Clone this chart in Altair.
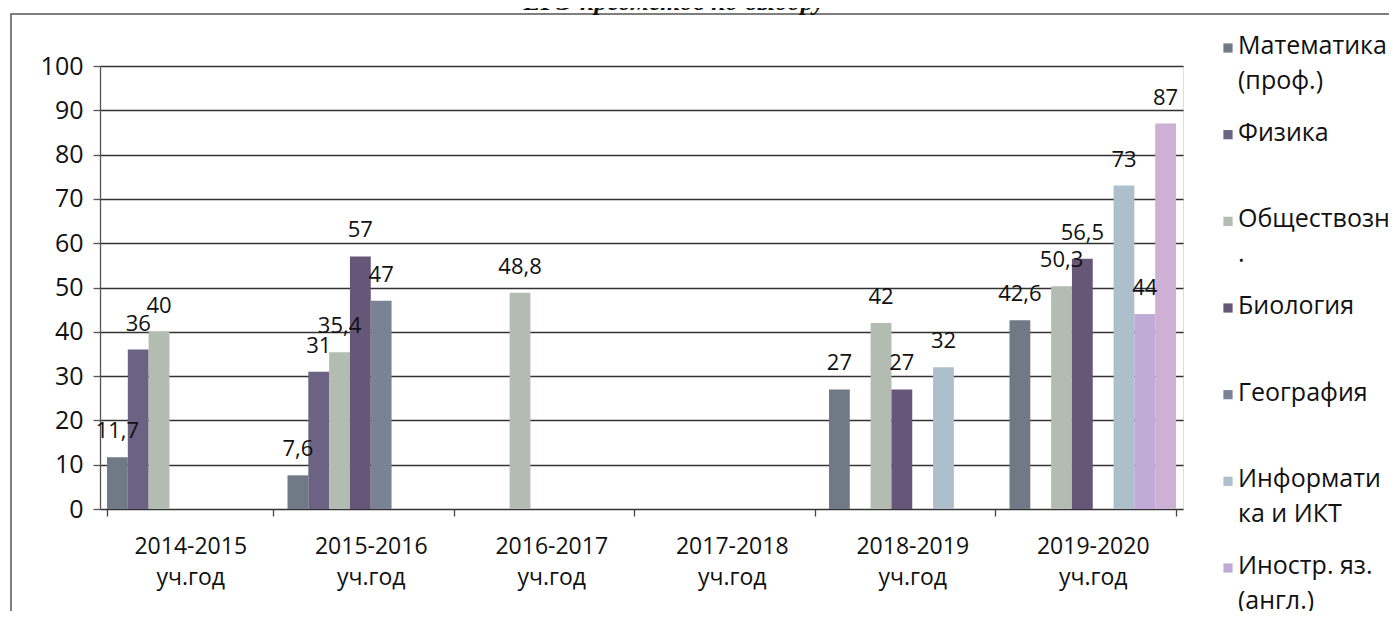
import altair as alt
import pandas as pd

years = ["2014-2015 уч.год", "2015-2016 уч.год", "2016-2017 уч.год",
         "2017-2018 уч.год", "2018-2019 уч.год", "2019-2020 уч.год"]
series = ["Математика (проф.)", "Физика", "Обществозн.", "Биология",
          "География", "Информатика и ИКТ", "Иностр. яз. (англ.)", "История"]
legend_labels = ["Математика\n(проф.)", "Физика", "Обществозн\n.", "Биология",
                 "География", "Информати\nка и ИКТ", "Иностр. яз.\n(англ.)"]
colors = ["#6f7a86", "#6c6283", "#b3bcb0", "#665678",
          "#7a8296", "#aebfcc", "#c0aad6", "#cdb0d4"]

math_vals = [11.7, 7.6, None, None, 27, 42.6]
phys_vals = [36, 31, None, None, None, None]
soc_vals = [40, 35.4, 48.8, None, 42, 50.3]
bio_vals = [None, 57, None, None, 27, 56.5]
geo_vals = [None, 47, None, None, None, None]
inf_vals = [None, None, None, None, 32, 73]
eng_vals = [None, None, None, None, None, 44]
hist_vals = [None, None, None, None, None, 87]

all_vals = [math_vals, phys_vals, soc_vals, bio_vals, geo_vals, inf_vals, eng_vals, hist_vals]

rows = []
for s, vals in zip(series, all_vals):
    for y, v in zip(years, vals):
        if v is not None:
            rows.append({"year": y, "series": s, "value": v,
                         "label": f"{v:g}".replace(".", ",")})
df = pd.DataFrame(rows)

FONT = "Open Sans"
color_scale = alt.Scale(domain=series, range=colors)

x_enc = alt.X("year:N", sort=years,
              scale=alt.Scale(domain=years, paddingInner=0.0776, paddingOuter=0.0388),
              axis=alt.Axis(title=None, labelExpr="split(datum.label, ' ')", labelAngle=0,
                            labelFontSize=23, labelFont=FONT, labelColor="#111",
                            tickBand="extent", tickSize=7, tickColor="#444", tickWidth=1.3,
                            domain=False, grid=False, labelPadding=19, labelLineHeight=31,
                            labelBaseline="top"))
xoff = alt.XOffset("series:N", sort=series,
                   scale=alt.Scale(domain=series, paddingInner=0, paddingOuter=0))
y_enc = alt.Y("value:Q", scale=alt.Scale(domain=[0, 100]),
              axis=alt.Axis(values=list(range(0, 101, 10)), title=None, grid=True,
                            gridColor="#333", gridWidth=1.4, domainColor="#555",
                            domainWidth=1.3, tickColor="#555", tickSize=7, tickWidth=1.3,
                            labelPadding=10, labelFontSize=25, labelFont=FONT,
                            labelColor="#111"))

bars = alt.Chart(df).mark_bar().encode(
    x=x_enc, xOffset=xoff, y=y_enc,
    color=alt.Color("series:N", scale=color_scale, legend=None))

labels = alt.Chart(df).mark_text(baseline="alphabetic", dy=-19, fontSize=22,
                                 font=FONT, color="#111").encode(
    x=x_enc, xOffset=xoff, y=y_enc, text="label:N")

main = alt.layer(bars, labels)

leg_df = pd.DataFrame({"series": series[:7], "label": legend_labels})
leg_y = alt.Y("series:N", sort=series[:7],
              scale=alt.Scale(type="point", domain=series[:7], range=[-18, 502], padding=0),
              axis=None)
leg_sym = alt.Chart(leg_df).mark_square(size=85, opacity=1).encode(
    x=alt.value(1128), y=leg_y,
    color=alt.Color("series:N", scale=color_scale, legend=None))
leg_txt = alt.Chart(leg_df).mark_text(align="left", baseline="top", dy=-14, fontSize=25,
                                      font=FONT, color="#111", lineBreak="\n",
                                      lineHeight=35).encode(
    x=alt.value(1138), y=leg_y, text="label:N")
legend = alt.layer(leg_sym, leg_txt)

one = pd.DataFrame({"k": [0]})
frame = alt.Chart(one).mark_rect(fill="transparent", stroke="#555", strokeWidth=1.5).encode(
    x=alt.value(-89), x2=alt.value(1400), y=alt.value(-52), y2=alt.value(700))
title = alt.Chart(one).mark_text(text="ЕГЭ предметов по выбору", font="Liberation Serif",
                                 fontStyle="italic", fontWeight="bold", fontSize=26,
                                 baseline="alphabetic", color="#111").encode(
    x=alt.value(574), y=alt.value(-56))

chart = alt.layer(frame, title, main, legend).resolve_scale(
    y="independent"
).properties(
    width=1083, height=443,
    padding={"left": 92, "top": 58, "right": 206, "bottom": 102},
    autosize=alt.AutoSizeParams(type="none"),
).configure_view(stroke=None).configure(background="white")

chart.save("out.html", embed_options={"renderer": "svg", "actions": False})
